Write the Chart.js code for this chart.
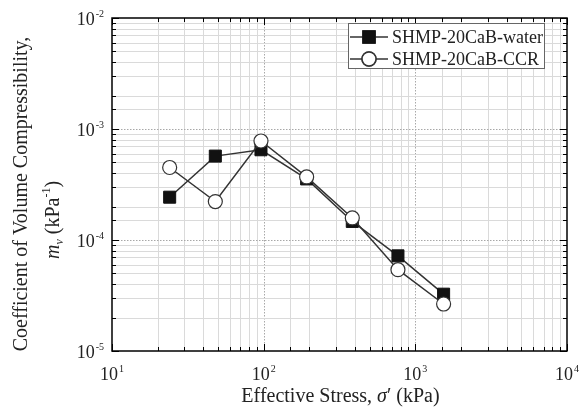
<!DOCTYPE html>
<html>
<head>
<meta charset="utf-8">
<script src="https://cdn.jsdelivr.net/npm/chart.js@4.4.1/dist/chart.umd.min.js"></script>
<style>
  html, body { margin: 0; background: #fff; }
</style>
</head>
<body>
<canvas id="chart" width="584" height="417"></canvas>
<script>
// effective stress (kPa) and coefficient of volume compressibility (1/kPa)
const stress = [24, 48, 96, 192, 384, 768, 1536];
const mvWater = [2.43e-4, 5.7e-4, 6.5e-4, 3.55e-4, 1.47e-4, 7.2e-5, 3.25e-5];
const mvCCR = [4.5e-4, 2.22e-4, 7.8e-4, 3.7e-4, 1.58e-4, 5.4e-5, 2.65e-5];
const seriesNames = ['SHMP-20CaB-water', 'SHMP-20CaB-CCR'];
const xDecades = [1, 2, 3, 4];
const yDecades = [-5, -4, -3, -2];

const FONT = '"Liberation Serif", "Times New Roman", serif';
const LINE = '#333';

const isDecade = v => Math.abs(Math.log10(v) - Math.round(Math.log10(v))) < 1e-6;

function powLabel(ctx, exp, x, y, align) {
  ctx.font = '18px ' + FONT;
  const wb = ctx.measureText('10').width;
  ctx.font = '10px ' + FONT;
  const ws = ctx.measureText(String(exp)).width + 1;
  const left = align === 'center' ? x - (wb + ws) / 2 : x - (wb + ws);
  ctx.textAlign = 'left';
  ctx.textBaseline = 'alphabetic';
  ctx.font = '18px ' + FONT;
  ctx.fillText('10', left, y);
  ctx.font = '10px ' + FONT;
  ctx.fillText(String(exp), left + wb + 1, y - 8);
}

// draw a run of text pieces [text, font, dy] centred on cx
function drawRuns(ctx, runs, cx, y) {
  let total = 0;
  runs.forEach(r => { ctx.font = r[1]; total += ctx.measureText(r[0]).width; });
  let x = cx - total / 2;
  ctx.textAlign = 'left';
  ctx.textBaseline = 'alphabetic';
  runs.forEach(r => {
    ctx.font = r[1];
    ctx.fillText(r[0], x, y + (r[2] || 0));
    x += ctx.measureText(r[0]).width;
  });
}

const logPlot = {
  id: 'logPlot',
  beforeDatasetsDraw(chart) {
    const { ctx, chartArea: a, scales: { x, y } } = chart;
    ctx.save();
    ctx.lineWidth = 1;
    const line = (x1, y1, x2, y2) => {
      ctx.beginPath(); ctx.moveTo(x1, y1); ctx.lineTo(x2, y2); ctx.stroke();
    };
    x.ticks.forEach(t => {
      if (t.value <= x.min || t.value >= x.max) return;
      const px = Math.round(x.getPixelForValue(t.value)) + 0.5;
      const major = isDecade(t.value);
      ctx.strokeStyle = major ? '#a8a8a8' : '#dadada';
      ctx.setLineDash(major ? [1.5, 1.5] : []);
      line(px, a.top, px, a.bottom);
    });
    y.ticks.forEach(t => {
      if (t.value <= y.min || t.value >= y.max) return;
      const py = Math.round(y.getPixelForValue(t.value)) + 0.5;
      const major = isDecade(t.value);
      ctx.strokeStyle = major ? '#a8a8a8' : '#dadada';
      ctx.setLineDash(major ? [1.5, 1.5] : []);
      line(a.left, py, a.right, py);
    });
    ctx.restore();
  },
  afterDatasetsDraw(chart) {
    const { ctx, chartArea: a, scales: { x, y } } = chart;
    ctx.save();
    const line = (x1, y1, x2, y2) => {
      ctx.beginPath(); ctx.moveTo(x1, y1); ctx.lineTo(x2, y2); ctx.stroke();
    };

    // inward tick marks on all four sides
    ctx.strokeStyle = '#000';
    ctx.lineWidth = 1;
    x.ticks.forEach(t => {
      const px = Math.round(x.getPixelForValue(t.value)) + 0.5;
      const len = isDecade(t.value) ? 7 : 4;
      line(px, a.bottom, px, a.bottom - len);
      line(px, a.top, px, a.top + len);
    });
    y.ticks.forEach(t => {
      const py = Math.round(y.getPixelForValue(t.value)) + 0.5;
      const len = isDecade(t.value) ? 7 : 4;
      line(a.left, py, a.left + len, py);
      line(a.right, py, a.right - len, py);
    });

    // frame
    ctx.lineWidth = 1.5;
    ctx.strokeRect(a.left, a.top, a.right - a.left, a.bottom - a.top);

    // tick labels
    ctx.fillStyle = '#222';
    xDecades.forEach(e => powLabel(ctx, e, x.getPixelForValue(Math.pow(10, e)), a.bottom + 29, 'center'));
    yDecades.forEach(e => powLabel(ctx, e, a.left - 8, y.getPixelForValue(Math.pow(10, e)) + 7, 'right'));

    // axis titles
    const norm = '20px ' + FONT, ital = 'italic 20px ' + FONT;
    drawRuns(ctx, [
      ['Effective Stress, ', norm], ['\u03c3', ital], ['\u2032 (kPa)', norm]
    ], (a.left + a.right) / 2 + 1, 402);

    ctx.save();
    ctx.translate(27, 194);
    ctx.rotate(-Math.PI / 2);
    drawRuns(ctx, [['Coefficient of Volume Compressibility,', norm]], 0, 0);
    ctx.restore();
    ctx.save();
    ctx.translate(59, 220);
    ctx.rotate(-Math.PI / 2);
    drawRuns(ctx, [
      ['m', ital], ['v', 'italic 12px ' + FONT, 4], [' (kPa', norm], ['-1', '12px ' + FONT, -9], [')', norm]
    ], 0, 0);
    ctx.restore();

    // legend
    const lx = 348, ly = 23, lw = 196, lh = 45;
    ctx.fillStyle = '#fff';
    ctx.fillRect(lx, ly, lw, lh);
    ctx.strokeStyle = '#666';
    ctx.lineWidth = 1;
    ctx.strokeRect(lx + 0.5, ly + 0.5, lw, lh);
    chart.data.datasets.forEach((ds, i) => {
      const ry = ly + 14 + i * 22;
      ctx.strokeStyle = LINE;
      ctx.lineWidth = 1.5;
      line(lx + 2, ry, lx + 40, ry);
      Chart.helpers.drawPoint(ctx, {
        pointStyle: ds.pointStyle, radius: ds.pointRadius, borderWidth: ds.pointBorderWidth
      }, lx + 21, ry);
      ctx.fillStyle = ds.pointBackgroundColor;
      ctx.strokeStyle = ds.pointBorderColor;
      ctx.fill();
      ctx.stroke();
      ctx.fillStyle = '#222';
      ctx.font = '18px ' + FONT;
      ctx.textAlign = 'left';
      ctx.textBaseline = 'middle';
      ctx.fillText(ds.label, lx + 44, ry + 1);
    });
    ctx.restore();
  }
};

new Chart(document.getElementById('chart'), {
  type: 'line',
  data: {
    datasets: [
      {
        label: seriesNames[0],
        data: stress.map((s, i) => ({ x: s, y: mvWater[i] })),
        borderColor: LINE,
        borderWidth: 1.5,
        pointStyle: 'rect',
        pointRadius: 8.5,
        pointBorderWidth: 1,
        pointBackgroundColor: '#111',
        pointBorderColor: '#111',
        order: 1
      },
      {
        label: seriesNames[1],
        data: stress.map((s, i) => ({ x: s, y: mvCCR[i] })),
        borderColor: LINE,
        borderWidth: 1.5,
        pointStyle: 'circle',
        pointRadius: 7,
        pointBorderWidth: 1.2,
        pointBackgroundColor: '#fff',
        pointBorderColor: '#333',
        order: 0
      }
    ]
  },
  options: {
    responsive: false,
    animation: false,
    devicePixelRatio: 1,
    layout: { padding: { left: 104, top: 18, right: 17, bottom: 58 } },
    scales: {
      x: {
        type: 'logarithmic',
        min: 10,
        max: 10000,
        grid: { display: false },
        border: { display: false },
        ticks: { display: false },
        title: { display: false }
      },
      y: {
        type: 'logarithmic',
        min: 1e-5,
        max: 1e-2,
        grid: { display: false },
        border: { display: false },
        ticks: { display: false },
        title: { display: false }
      }
    },
    plugins: {
      legend: { display: false },
      tooltip: { enabled: false }
    }
  },
  plugins: [logPlot]
});
</script>
</body>
</html>
